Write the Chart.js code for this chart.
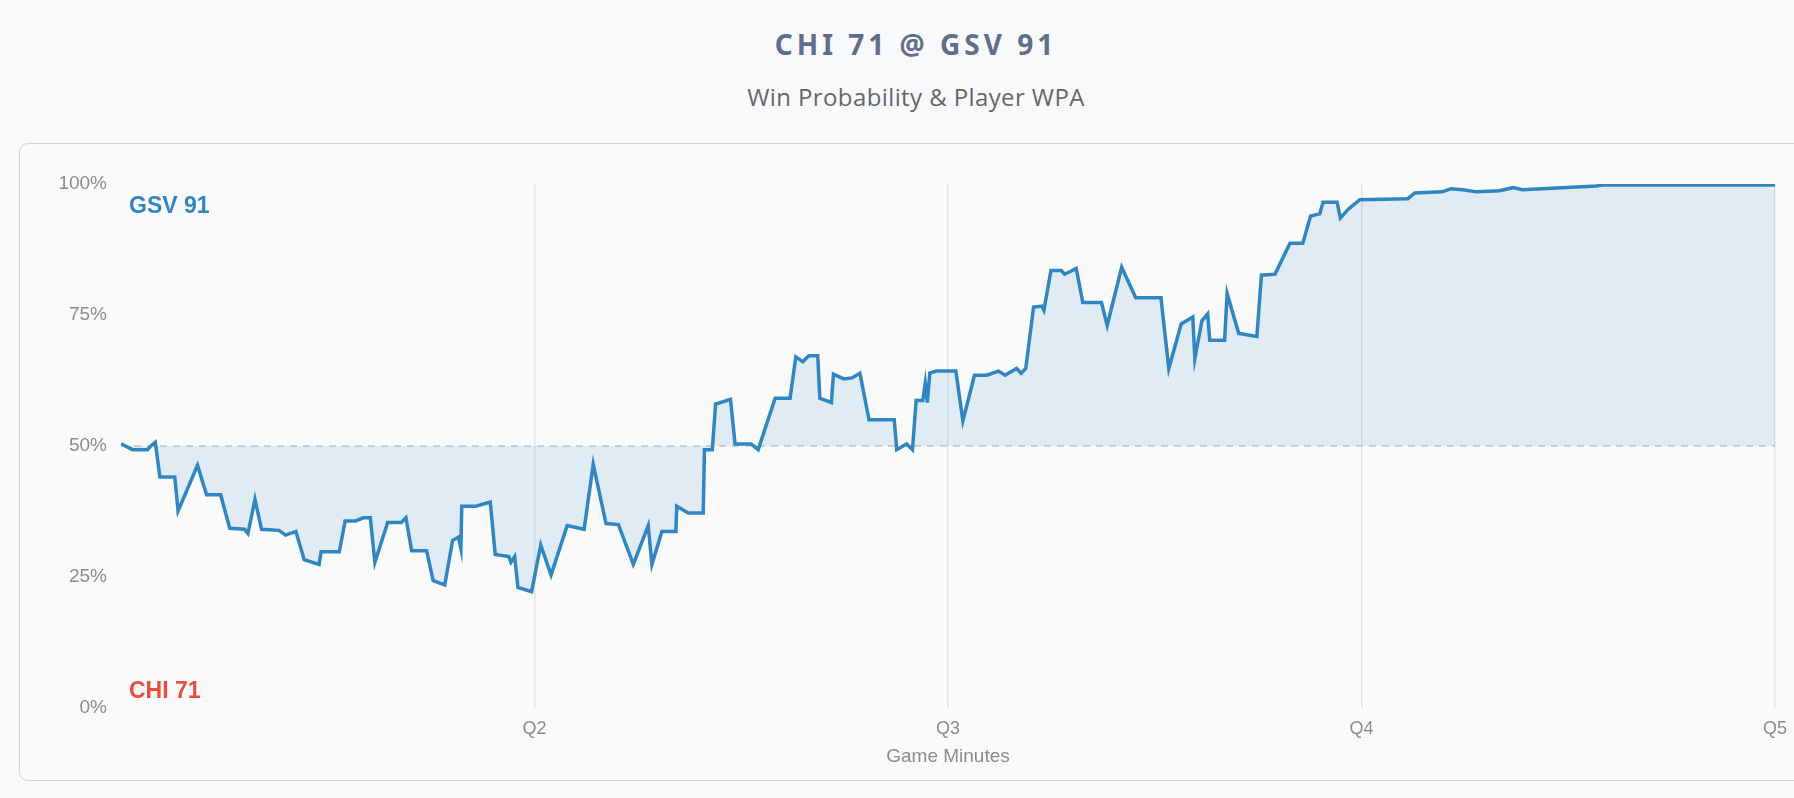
<!DOCTYPE html>
<html>
<head>
<meta charset="utf-8">
<script src="https://cdn.jsdelivr.net/npm/chart.js@4.4.1/dist/chart.umd.min.js"></script>
<style>
  html, body { margin: 0; padding: 0; }
  body {
    width: 1794px; height: 798px; overflow: hidden;
    background: #f8f9fa; position: relative;
    font-family: "Liberation Sans", Arial, sans-serif;
  }
  .wrap { position: absolute; left: 19px; top: 0; width: 1794px; }
  h1 {
    position: absolute; left: 0; width: 100%; top: 25px; margin: 0;
    text-align: center; font-family: "Noto Sans", sans-serif; font-weight: 700;
    font-size: 28px; letter-spacing: 4px; color: #5f6e8a; line-height: 38px;
  }
  .sub {
    position: absolute; left: 0; width: 100%; top: 81px; margin: 0;
    text-align: center; font-family: "Open Sans", sans-serif; font-size: 24px;
    letter-spacing: 0.4px; color: #666; line-height: 32px;
  }
  .card {
    position: absolute; left: 0; top: 143px; width: 1794px; height: 638px;
    background: #fafafa; border: 1px solid #d4d4d4; border-radius: 9px;
    box-sizing: border-box;
  }
  .card .box { position: absolute; left: 0; top: 0; width: 1794px; height: 636px; }
</style>
</head>
<body>
<div class="wrap">
  <h1>CHI 71 @ GSV 91</h1>
  <div class="sub">Win Probability &amp; Player WPA</div>
  <div class="card"><div class="box"><canvas id="wp"></canvas></div></div>
</div>
<script>
// game clock in minutes (0-40) and GSV win probability in %
const minutes = [
  0, 0.28, 0.64, 0.72, 0.83, 0.94, 1.30, 1.38, 1.85, 2.07, 2.41, 2.63, 2.99, 3.07, 3.24, 3.40,
  3.82, 3.98, 4.23, 4.43, 4.79, 4.84, 5.28, 5.42, 5.67, 5.86, 6.03, 6.14, 6.45, 6.78, 6.89, 7.03,
  7.39, 7.55, 7.83, 8.02, 8.16, 8.22, 8.24, 8.58, 8.93, 9.05, 9.38, 9.43, 9.52, 9.60, 9.93,
  10.15, 10.40, 10.79, 11.20, 11.42, 11.73, 12.03, 12.39, 12.75, 12.84, 13.08, 13.42, 13.44,
  13.72, 14.08, 14.11, 14.30, 14.38, 14.74, 14.85, 15.24, 15.41, 15.82, 16.18, 16.32, 16.49,
  16.63, 16.85, 16.90, 17.18, 17.23, 17.48, 17.68, 17.87, 18.09, 18.70, 18.76, 19.00, 19.14,
  19.23, 19.39, 19.45, 19.50, 19.56, 19.72, 20.19, 20.36, 20.64, 20.94, 21.22, 21.38, 21.66,
  21.77, 21.88, 22.07, 22.27, 22.32, 22.49, 22.74, 22.82, 22.96, 23.10, 23.26, 23.71, 23.85,
  24.20, 24.54, 25.15, 25.34, 25.64, 25.92, 25.97, 26.14, 26.28, 26.33, 26.69, 26.75, 27.03,
  27.47, 27.58, 27.91, 28.27, 28.58, 28.77, 28.99, 29.07, 29.41, 29.49, 29.68, 29.96, 31.12,
  31.29, 31.95, 32.17, 32.45, 32.78, 33.33, 33.67, 33.89, 35.68, 35.82, 40.0
];
const gsvWinPct = [
  50.4, 49.3, 49.3, 50.0, 50.7, 44.1, 44.1, 37.6, 46.3, 40.7, 40.7, 34.3, 34.1, 33.3, 39.8, 34.1,
  33.9, 33.0, 33.7, 28.3, 27.4, 29.8, 29.8, 35.7, 35.7, 36.3, 36.3, 27.8, 35.4, 35.4, 36.3, 30.0,
  30.0, 24.3, 23.5, 32.0, 32.6, 30.4, 38.5, 38.5, 39.3, 29.3, 28.9, 27.8, 28.9, 23.0, 22.2,
  31.1, 25.4, 34.8, 34.1, 46.5, 35.2, 35.0, 27.4, 34.8, 27.4, 33.7, 33.7, 38.5,
  37.2, 37.2, 49.3, 49.3, 58.0, 58.9, 50.4, 50.4, 49.3, 59.1, 59.1, 67.0, 66.1,
  67.2, 67.2, 59.1, 58.3, 63.7, 62.8, 63.0, 63.9, 55.0, 55.0, 49.3, 50.4, 49.3,
  58.7, 58.7, 62.0, 58.3, 63.9, 64.3, 64.3, 54.8, 63.5, 63.5, 64.3, 63.5, 64.8,
  63.9, 64.8, 76.5, 76.7, 75.9, 83.5, 83.5, 82.8, 83.3, 83.9, 77.4, 77.4, 73.0,
  84.1, 78.3, 78.3, 64.8, 73.3, 74.6, 66.7, 73.9, 75.2, 70.2, 70.2, 79.1, 71.5,
  70.9, 82.6, 82.8, 88.7, 88.7, 93.9, 94.3, 96.5, 96.5, 93.5, 95.2, 97.0, 97.2,
  98.3, 98.5, 99.1, 98.9, 98.5, 98.7, 99.3, 98.9, 99.6, 99.8, 99.8
];
const quarterTicks = ['', 'Q2', 'Q3', 'Q4', 'Q5'];
const yTicks = ['0%', '25%', '50%', '75%', '100%'];
const homeLabel = 'GSV 91';
const awayLabel = 'CHI 71';

const lineBlue = '#2f86c2';
const awayRed = '#e8503c';
const tickFont = '"Liberation Sans", Arial, sans-serif';

// dashed 50% line and team labels in the plot
const overlay = {
  id: 'overlay',
  beforeDatasetsDraw(chart) {
    const { ctx, chartArea, scales } = chart;
    const y = scales.y.getPixelForValue(50);
    ctx.save();
    ctx.strokeStyle = '#c8c8c8';
    ctx.lineWidth = 1.5;
    ctx.setLineDash([7, 6]);
    ctx.beginPath();
    ctx.moveTo(chartArea.left, y);
    ctx.lineTo(chartArea.right, y);
    ctx.stroke();
    ctx.restore();
  },
  afterDraw(chart) {
    const { ctx, chartArea } = chart;
    ctx.save();
    ctx.font = 'bold 23px "Liberation Sans", Arial, sans-serif';
    ctx.textBaseline = 'middle';
    ctx.fillStyle = lineBlue;
    ctx.fillText(homeLabel, chartArea.left + 8, chartArea.top + 23);
    ctx.fillStyle = awayRed;
    ctx.fillText(awayLabel, chartArea.left + 8, chartArea.bottom - 16);
    ctx.restore();
  }
};

new Chart(document.getElementById('wp'), {
  type: 'line',
  data: {
    datasets: [{
      label: 'GSV win probability',
      data: minutes.map((m, i) => ({ x: m, y: gsvWinPct[i] })),
      borderColor: lineBlue,
      borderWidth: 3.5,
      backgroundColor: 'rgba(47, 134, 194, 0.12)',
      fill: { value: 50 },
      pointRadius: 0,
      tension: 0
    }]
  },
  options: {
    responsive: true,
    maintainAspectRatio: false,
    animation: false,
    layout: { padding: { top: 40, right: 39, bottom: 0, left: 0 } },
    plugins: { legend: { display: false }, tooltip: { enabled: false } },
    scales: {
      x: {
        type: 'linear', min: 0, max: 40,
        afterFit(s) { s.height = 72; },
        border: { display: false },
        grid: {
          drawTicks: false,
          lineWidth: 1.5,
          color: ctx => ctx.tick && ctx.tick.value === 0 ? 'rgba(0,0,0,0)' : '#e2e2e2'
        },
        ticks: {
          stepSize: 10, padding: 10, color: '#8c8c8c', maxRotation: 0,
          font: { size: 18, family: tickFont },
          callback: v => quarterTicks[v / 10]
        },
        title: {
          display: true, text: 'Game Minutes', color: '#8c8c8c',
          padding: { top: 0, bottom: 12 },
          font: { size: 19, family: tickFont }
        }
      },
      y: {
        min: 0, max: 100,
        afterFit(s) { s.width = 101; },
        border: { display: false },
        grid: { display: false, drawTicks: false },
        ticks: {
          stepSize: 25, padding: 14, color: '#8c8c8c',
          font: { size: 19, family: tickFont },
          callback: v => yTicks[v / 25]
        }
      }
    }
  },
  plugins: [overlay]
});
</script>
</body>
</html>
